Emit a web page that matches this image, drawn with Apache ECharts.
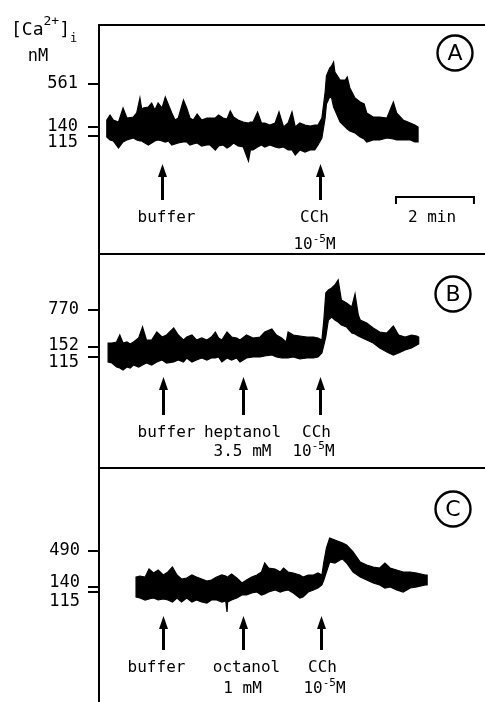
<!DOCTYPE html>
<html><head><meta charset="utf-8">
<script src="https://cdn.jsdelivr.net/npm/echarts@6/dist/echarts.min.js"></script>
<style>html,body{margin:0;padding:0;background:#fff;}#c{width:485px;height:702px;}</style>
</head><body><div id="c"></div>
<script>
// ---- data: time (s) and fluorescence-ratio envelopes (upper / lower edge of the noisy trace) ----
const timeA = [12,17,22,30,37,43,53,58,63,66,68,76,81,86,91,97,102,107,112,117,122,130,135,140,145,151,158,166,171,179,184,191,197,202,207,214,222,230,233,237,244,250,255,263,271,277,284,291,297,302,309,317,325,332,337,343,348,350,355,358,361,363,371,379,382,386,394,402,408,412,422,432,443,453,458,468,479,486,491];
const upperA = [1.16,1.21,1.16,1.14,1.28,1.18,1.19,1.23,1.38,1.26,1.28,1.29,1.33,1.26,1.33,1.28,1.39,1.31,1.23,1.16,1.18,1.36,1.28,1.18,1.16,1.22,1.16,1.18,1.18,1.18,1.21,1.18,1.17,1.25,1.19,1.16,1.14,1.13,1.14,1.14,1.24,1.13,1.13,1.11,1.13,1.24,1.09,1.13,1.24,1.09,1.13,1.11,1.10,1.11,1.11,1.18,1.44,1.60,1.68,1.70,1.74,1.64,1.56,1.56,1.59,1.48,1.38,1.34,1.32,1.23,1.19,1.19,1.18,1.34,1.23,1.16,1.13,1.11,1.09];
const lowerA = [0.99,0.96,0.95,0.88,0.94,0.96,0.98,0.96,0.95,0.95,0.94,0.91,0.93,0.95,0.96,0.95,0.94,0.95,0.91,0.92,0.93,0.94,0.94,0.91,0.92,0.93,0.90,0.91,0.91,0.86,0.90,0.91,0.88,0.90,0.93,0.90,0.89,0.75,0.86,0.86,0.89,0.91,0.89,0.91,0.89,0.88,0.89,0.86,0.86,0.81,0.86,0.84,0.86,0.86,0.91,0.98,1.18,1.32,1.39,1.38,1.29,1.26,1.14,1.09,1.07,1.05,1.03,0.99,0.97,0.94,0.96,0.96,0.98,0.97,0.96,0.96,0.96,0.94,0.94];

const timeB = [14,20,27,32,37,43,48,53,61,67,73,81,89,97,104,115,122,130,135,143,150,158,166,173,179,184,189,197,204,212,217,227,237,248,255,266,273,281,288,291,299,309,320,330,337,343,346,349,353,358,363,368,373,381,389,394,399,402,412,422,432,443,453,461,471,481,489,492];
const upperB = [1.14,1.14,1.15,1.22,1.14,1.15,1.13,1.15,1.19,1.30,1.17,1.17,1.25,1.20,1.22,1.29,1.22,1.17,1.20,1.22,1.17,1.19,1.17,1.20,1.25,1.19,1.17,1.25,1.20,1.19,1.17,1.22,1.19,1.20,1.25,1.28,1.22,1.19,1.15,1.25,1.22,1.21,1.20,1.20,1.19,1.17,1.37,1.64,1.67,1.69,1.72,1.77,1.57,1.54,1.50,1.63,1.42,1.37,1.34,1.29,1.25,1.24,1.31,1.22,1.20,1.22,1.21,1.20];
const lowerB = [0.95,0.94,0.90,0.89,0.87,0.90,0.89,0.92,0.90,0.92,0.94,0.92,0.95,0.97,0.94,0.95,0.97,0.95,0.99,0.95,0.97,0.99,0.97,0.99,0.99,1.00,0.95,0.99,0.97,0.99,0.95,0.99,1.00,1.00,1.01,1.02,1.00,0.99,0.99,0.99,1.00,0.98,0.99,0.99,1.00,1.04,1.12,1.20,1.37,1.40,1.37,1.35,1.32,1.30,1.24,1.23,1.21,1.20,1.17,1.14,1.09,1.05,1.02,1.04,1.07,1.09,1.12,1.13];

const timeC = [57,63,71,77,84,91,99,106,113,120,127,135,143,150,158,166,173,181,189,195,197,198,204,212,220,227,235,243,250,255,261,271,279,284,291,299,309,314,322,330,337,343,346,350,355,363,371,375,381,391,402,412,422,432,440,448,458,468,479,489,502,505];
const upperC = [1.15,1.16,1.15,1.23,1.19,1.22,1.17,1.20,1.25,1.17,1.13,1.14,1.17,1.15,1.13,1.11,1.12,1.15,1.17,1.16,1.15,1.15,1.18,1.14,1.09,1.12,1.15,1.17,1.20,1.29,1.24,1.23,1.20,1.24,1.20,1.19,1.17,1.15,1.17,1.17,1.19,1.17,1.30,1.44,1.54,1.52,1.50,1.49,1.47,1.40,1.30,1.27,1.25,1.24,1.29,1.24,1.22,1.20,1.20,1.19,1.17,1.17];
const lowerC = [0.95,0.94,0.92,0.93,0.94,0.92,0.93,0.92,0.90,0.94,0.90,0.94,0.90,0.92,0.90,0.89,0.92,0.92,0.90,0.91,0.80,0.90,0.92,0.94,0.97,0.97,0.99,1.00,0.97,0.98,1.00,1.02,1.00,1.01,1.02,0.99,0.94,0.95,1.00,1.02,1.04,1.07,1.12,1.20,1.30,1.29,1.32,1.33,1.29,1.20,1.15,1.12,1.09,1.07,1.04,1.05,1.02,1.00,1.04,1.05,1.07,1.07];

// calibration ticks: ratio level -> [Ca2+]i (nM)
const tickLevelA = [1.00, 1.09, 1.52];
const tickLevelB = [1.00, 1.10, 1.47];
const tickLevelC = [1.00, 1.05, 1.41];
const tickNmA = ['115', '140', '561'];
const tickNmB = ['115', '152', '770'];
const tickNmC = ['115', '140', '490'];
const labelLevelA = [0.93, 1.09, 1.52];
const labelLevelB = [0.94, 1.11, 1.47];
const labelLevelC = [0.90, 1.09, 1.41];

// events (s)
const eventTimesA = [97, 340];
const eventTimesB = [98, 222, 340];
const eventTimesC = [98, 222, 342];
const eventNamesA = ['buffer', 'CCh'];
const eventNamesB = ['buffer', 'heptanol', 'CCh'];
const eventNamesC = ['buffer', 'octanol', 'CCh'];
const eventDoseA = ['', '10-5M'];
const eventDoseB = ['', '3.5 mM', '10-5M'];
const eventDoseC = ['', '1 mM', '10-5M'];
const panelLetters = ['A', 'B', 'C'];
const scaleBarSeconds = 120;
const scaleBarLabel = '2 min';

// ---- layout ----
const FONT = '"DejaVu Sans Mono", monospace';
const INK = '#000';
const panels = [
  {time: timeA, up: upperA, lo: lowerA, tick: tickLevelA, nm: tickNmA, lab: labelLevelA, min: -0.18, max: 2.11, top: 25, h: 229, labRight: 78,
   ev: eventTimesA, names: eventNamesA, dose: eventDoseA, tip: 164, base: 200, row1: 218, row2: 245, dx1: [4, -6], dx2: [0, -6], circle: [455, 53]},
  {time: timeB, up: upperB, lo: lowerB, tick: tickLevelB, nm: tickNmB, lab: labelLevelB, min: -0.11, max: 2.03, top: 254, h: 214, labRight: 79,
   ev: eventTimesB, names: eventNamesB, dose: eventDoseB, tip: 377, base: 415, row1: 433, row2: 452, dx1: [3, -1, -4], dx2: [0, -1, -7], circle: [453, 294]},
  {time: timeC, up: upperC, lo: lowerC, tick: tickLevelC, nm: tickNmC, lab: labelLevelC, min: -0.10, max: 2.24, top: 468, h: 234, labRight: 80,
   ev: eventTimesC, names: eventNamesC, dose: eventDoseC, tip: 616, base: 650, row1: 668, row2: 689, dx1: [-7, 3, 1], dx2: [0, -1, 3], circle: [453, 509]}
];

const grid = [], xAxis = [], yAxis = [], series = [];
panels.forEach((p, i) => {
  grid.push({left: 99, right: 0, top: p.top, height: p.h, outerBoundsMode: 'none'});
  xAxis.push({type: 'value', gridIndex: i, min: 0, max: 594, position: 'top',
    axisLine: {show: true, onZero: false, lineStyle: {color: INK, width: 2}},
    axisTick: {show: false}, axisLabel: {show: false}, splitLine: {show: false}});
  yAxis.push({type: 'value', gridIndex: i, min: p.min, max: p.max,
    axisLine: {show: true, onZero: false, lineStyle: {color: INK, width: 2}},
    axisTick: {show: true, length: 11, customValues: p.tick, lineStyle: {color: INK, width: 2}},
    axisLabel: {show: false}, splitLine: {show: false}});
  // band between lower and upper envelopes, drawn through the axis scales
  series.push({type: 'custom', xAxisIndex: i, yAxisIndex: i, silent: true, z: 3, clip: true,
    data: p.time.map((t, k) => [t, p.lo[k], p.up[k]]),
    encode: {x: 0, y: [1, 2]},
    renderItem: (params, api) => {
      if (params.dataIndex !== 0) return null;
      const top = p.time.map((t, k) => api.coord([t, p.up[k]]));
      const bot = p.time.map((t, k) => api.coord([t, p.lo[k]])).reverse();
      return {type: 'polygon', shape: {points: top.concat(bot)},
        style: {fill: INK, stroke: INK, lineWidth: 1.2, lineJoin: 'miter'}};
    }});
});

const chart = echarts.init(document.getElementById('c'), null, {renderer: 'canvas'});
chart.setOption({animation: false, backgroundColor: '#fff', grid, xAxis, yAxis, series});

const rich = {s: {fontFamily: FONT, fontSize: 11, verticalAlign: 'top', fill: INK}};
function richDose(str) { return str.replace(/10-(\d)M/, '10{s|-$1}M'); }
function txt(x, y, text, size, align) {
  return {type: 'text', x, y, z: 10, style: {text, fill: INK, fontFamily: FONT, fontSize: size || 16,
    align: align || 'center', verticalAlign: 'middle', lineHeight: 22, rich}};
}
const g = [];
panels.forEach((p, i) => {
  // calibration tick labels (nM) placed through the y scale
  p.lab.forEach((L, k) => {
    const y = chart.convertToPixel({yAxisIndex: i}, L);
    g.push(txt(p.labRight, y, p.nm[k], 17, 'right'));
  });
  p.ev.forEach((t, k) => {
    const x = Math.round(chart.convertToPixel({xAxisIndex: i}, t)) + 0.5;
    g.push({type: 'line', z: 10, shape: {x1: x, y1: p.tip + 8, x2: x, y2: p.base}, style: {stroke: INK, lineWidth: 3}});
    g.push({type: 'polygon', z: 10, shape: {points: [[x, p.tip], [x - 4.5, p.tip + 13], [x + 4.5, p.tip + 13]]}, style: {fill: INK}});
    g.push(txt(x + p.dx1[k], p.row1, p.names[k]));
    if (p.dose[k]) g.push(txt(x + p.dx2[k], p.row2, richDose(p.dose[k])));
  });
  g.push({type: 'circle', z: 10, shape: {cx: p.circle[0], cy: p.circle[1], r: 17.5}, style: {fill: 'none', stroke: INK, lineWidth: 2.4}});
  g.push({type: 'text', z: 10, x: p.circle[0], y: p.circle[1] + 1, style: {text: panelLetters[i], fill: INK,
    fontFamily: '"DejaVu Sans", sans-serif', fontSize: 22, align: 'center', verticalAlign: 'middle'}});
});
// scale bar (2 min) in panel A
const sb0 = chart.convertToPixel({xAxisIndex: 0}, 457);
const sb1 = chart.convertToPixel({xAxisIndex: 0}, 457 + scaleBarSeconds);
g.push({type: 'polyline', z: 10, shape: {points: [[sb0, 204], [sb0, 197], [sb1, 197], [sb1, 204]]}, style: {stroke: INK, lineWidth: 2, fill: 'none'}});
g.push(txt((sb0 + sb1) / 2 - 3, 218, scaleBarLabel));
// axis title
g.push({type: 'text', z: 10, x: 11, y: 30, style: {text: '{b|[Ca}{sp|2+}{b|]}{sb|i}', fill: INK, verticalAlign: 'middle', align: 'left', lineHeight: 30,
  rich: {b: {fontFamily: FONT, fontSize: 18, fill: INK}, sp: {fontFamily: FONT, fontSize: 13, verticalAlign: 'top', fill: INK},
         sb: {fontFamily: FONT, fontSize: 12, verticalAlign: 'bottom', fill: INK}}}});
g.push(txt(38, 57, 'nM', 17));
chart.setOption({graphic: g});
</script>
</body></html>
